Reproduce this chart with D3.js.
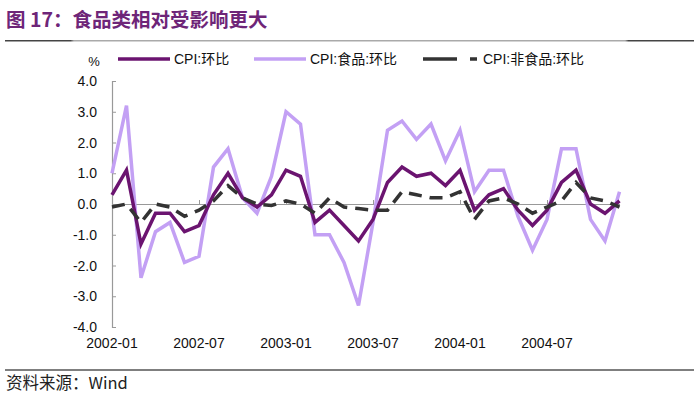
<!DOCTYPE html>
<html>
<head>
<meta charset="utf-8">
<script src="https://cdn.jsdelivr.net/npm/d3@7"></script>
<style>
  body { margin: 0; background: #fff; }
  svg text { font-family: "Liberation Sans", Arial, "Noto Sans CJK SC", sans-serif; }
</style>
</head>
<body>
<div id="chart"></div>
<script>
// Months 2002-01 .. 2004-12
var months = [];
for (var yr = 2002; yr <= 2004; yr++) {
    for (var m = 1; m <= 12; m++) months.push(yr + "-" + (m < 10 ? "0" + m : m));
}

var cpi = [0.3, 1.1, -1.3, -0.3, -0.3, -0.9, -0.7, 0.3, 1.0, 0.2, -0.1, 0.3,
           1.1, 0.9, -0.6, -0.2, -0.7, -1.2, -0.5, 0.7, 1.2, 0.9, 1.0, 0.6,
           1.1, -0.2, 0.3, 0.5, -0.2, -0.7, -0.2, 0.7, 1.1, 0.0, -0.3, 0.1];
var food = [1.0, 3.2, -2.4, -0.9, -0.6, -1.9, -1.7, 1.2, 1.8, 0.2, -0.3, 0.9,
            3.0, 2.6, -1.0, -1.0, -1.9, -3.3, -0.6, 2.4, 2.7, 2.1, 2.6, 1.4,
            2.4, 0.4, 1.1, 1.1, -0.4, -1.5, -0.5, 1.8, 1.8, -0.5, -1.2, 0.4];
var nonFood = [-0.1, 0.0, -0.6, 0.0, -0.1, -0.4, -0.2, 0.1, 0.6, 0.2, 0.0, -0.05,
               0.1, 0.0, -0.3, 0.2, -0.1, -0.15, -0.2, -0.2, 0.4, 0.3, 0.2, 0.2,
               0.4, -0.5, 0.1, 0.2, 0.0, -0.3, -0.1, 0.1, 0.7, 0.2, 0.1, -0.1];

var yTicks = [4, 3, 2, 1, 0, -1, -2, -3, -4];
var xTickLabels = ["2002-01", "2002-07", "2003-01", "2003-07", "2004-01", "2004-07"];

var seriesNames = ["CPI:环比", "CPI:食品:环比", "CPI:非食品:环比"];
var colors = ["#6b1470", "#c3a0f4", "#333333"];

var width = 700, height = 394;
var svg = d3.select("#chart").append("svg")
    .attr("width", width)
    .attr("height", height);

// Title
svg.append("text")
    .attr("x", 6).attr("y", 27)
    .style("font-family", "'Noto Sans CJK SC', sans-serif")
    .style("font-size", "19.5px")
    .style("font-weight", "bold")
    .style("fill", "#6e2578")
    .text("图 17：食品类相对受影响更大");

// Header rule: dark ends, light middle
var grad = svg.append("defs").append("linearGradient").attr("id", "rule");
[[0, "#444"], [0.095, "#444"], [0.1, "#aaa"], [0.9, "#aaa"], [0.905, "#444"], [1, "#444"]]
    .forEach(function (s) {
        grad.append("stop").attr("offset", s[0]).attr("stop-color", s[1]);
    });
svg.append("rect").attr("x", 5).attr("y", 40).attr("width", 689).attr("height", 1.5)
    .style("fill", "url(#rule)");

// Bottom rule + source
svg.append("line").attr("x1", 5).attr("x2", 694).attr("y1", 370).attr("y2", 370)
    .style("stroke", "#555").style("stroke-width", 1.5);
svg.append("text")
    .attr("x", 6).attr("y", 389)
    .style("font-family", "'Noto Sans CJK SC', sans-serif")
    .style("font-size", "16.5px")
    .style("fill", "#222")
    .text("资料来源：Wind");

// Scales
var x = d3.scaleLinear().domain([0, months.length - 1]).range([112, 619.5]);
var y = d3.scaleLinear().domain([-4, 4]).range([327, 81]);

// Y axis
var yAxis = svg.append("g")
    .attr("transform", "translate(112,0)")
    .call(d3.axisRight(y).tickValues(yTicks).tickSize(4).tickFormat(""));
yAxis.select(".domain").style("stroke", "#999").style("stroke-width", 1.2);
yAxis.selectAll(".tick line").style("stroke", "#999");

yTicks.forEach(function (v) {
    svg.append("text")
        .attr("x", 97).attr("y", y(v) + 5)
        .attr("text-anchor", "end")
        .style("font-size", "14px")
        .style("fill", "#111")
        .text(v.toFixed(1));
});
svg.append("text")
    .attr("x", 94).attr("y", 66)
    .attr("text-anchor", "middle")
    .style("font-size", "13px")
    .style("fill", "#111")
    .text("%");

// X axis at zero
var xTickIdx = xTickLabels.map(function (l) { return months.indexOf(l); });
var xAxis = svg.append("g")
    .attr("transform", "translate(0," + y(0) + ")")
    .call(d3.axisTop(x).tickValues(xTickIdx).tickSize(4).tickFormat("").tickSizeOuter(0));
xAxis.select(".domain").style("stroke", "#999").style("stroke-width", 1.2);
xAxis.selectAll(".tick line").style("stroke", "#999");

xTickIdx.forEach(function (i, k) {
    svg.append("text")
        .attr("x", x(i)).attr("y", 348)
        .attr("text-anchor", "middle")
        .style("font-size", "14px")
        .style("fill", "#111")
        .text(xTickLabels[k]);
});

// Lines
var line = d3.line()
    .x(function (d, i) { return x(i); })
    .y(function (d) { return y(d); });

svg.append("path").datum(food)
    .attr("d", line)
    .style("fill", "none").style("stroke", colors[1]).style("stroke-width", 3.5);
svg.append("path").datum(cpi)
    .attr("d", line)
    .style("fill", "none").style("stroke", colors[0]).style("stroke-width", 3.5);
svg.append("path").datum(nonFood)
    .attr("d", line)
    .style("fill", "none").style("stroke", colors[2]).style("stroke-width", 3.5)
    .style("stroke-dasharray", "13,8");

// Legend
var legendX = [118, 254, 423];
seriesNames.forEach(function (name, k) {
    var g = svg.append("g").attr("transform", "translate(" + legendX[k] + ",59)");
    g.append("line")
        .attr("x1", 0).attr("x2", k === 2 ? 54 : 52)
        .attr("y1", 0).attr("y2", 0)
        .style("stroke", colors[k]).style("stroke-width", 3.5)
        .style("stroke-dasharray", k === 2 ? "34,13" : null);
    g.append("text")
        .attr("x", k === 2 ? 60 : 56).attr("y", 5)
        .style("font-size", "14px")
        .style("fill", "#111")
        .text(name);
});
</script>
</body>
</html>
